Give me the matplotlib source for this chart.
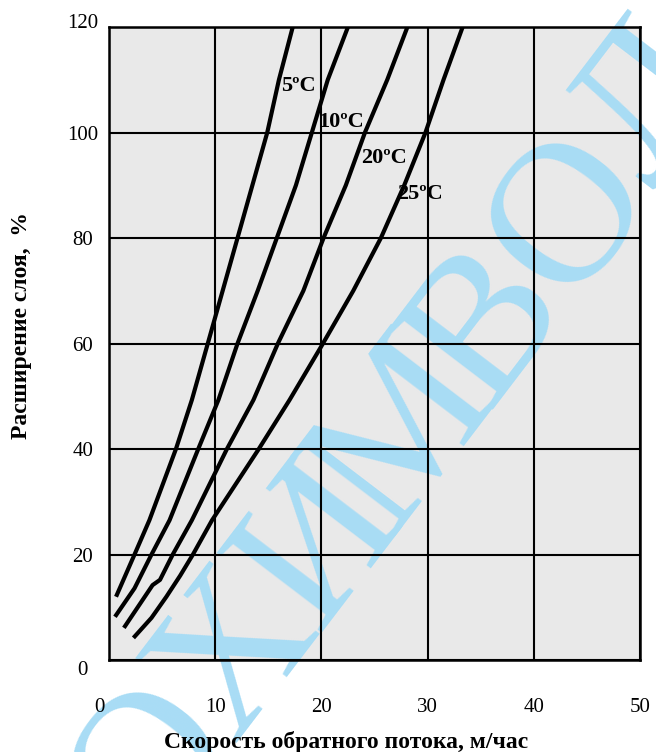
import matplotlib
matplotlib.use("Agg")
import matplotlib.pyplot as plt
import matplotlib.transforms as mtransforms
import numpy as np

plt.rcParams['font.family'] = ['Liberation Serif', 'DejaVu Serif']

# values: flow rate (m/h) vs bed expansion (%)
x_5 = [0.66, 2.4, 3.8, 6.3, 7.8, 9.3, 10.7, 12.1, 13.5, 14.9, 16.0, 17.3]
y_5 = [12, 20, 26.5, 40, 49.3, 60, 70, 80, 90, 100, 110, 120]

x_10 = [0.56, 2.4, 4.0, 5.7, 8.4, 10.3, 12.1, 14.0, 15.8, 17.6, 19.1, 20.6, 22.5]
y_10 = [8.2, 13.6, 20, 26.5, 40, 49.3, 60, 70, 80, 90, 100, 110, 120]

x_20 = [1.4, 4.1, 4.8, 6.0, 7.8, 11.1, 13.6, 15.9, 18.3, 20.2, 22.3, 24.1, 26.2, 28.1]
y_20 = [6.1, 14.2, 15.2, 20, 26.5, 40, 49.3, 60, 70, 80, 90, 100, 110, 120]

x_25 = [2.3, 4.0, 5.4, 6.7, 7.9, 9.7, 14.1, 17.0, 20.0, 23.0, 25.6, 27.8, 29.8, 31.5, 33.3]
y_25 = [4.2, 8.0, 12, 16, 20, 26.5, 40, 49.3, 59.5, 70, 80, 90, 100, 110, 120]

curves = [(x_5, y_5), (x_10, y_10), (x_20, y_20), (x_25, y_25)]
labels = ['5ºC', '10ºC', '20ºC', '25ºC']
label_x = [17.8, 21.9, 25.9, 29.3]
label_y = [108.8, 102.0, 95.2, 88.3]

x_ticks = [0, 10, 20, 30, 40, 50]
y_ticks = [0, 20, 40, 60, 80, 100, 120]

watermark = 'ОХИМВОЛ'

fig = plt.figure(figsize=(6.56, 7.52), dpi=100)
ax = fig.add_axes([0.1662, 0.1223, 0.8094, 0.8418])
ax.set_facecolor('#e9e9e9')

for xs, ys in curves:
    ax.plot(xs, ys, color='black', lw=3.0, solid_capstyle='butt',
            solid_joinstyle='round', zorder=3)

for t, lx, ly in zip(labels, label_x, label_y):
    ax.text(lx, ly, t, fontsize=16, fontweight='bold', ha='center',
            va='center', zorder=4)

ax.set_xlim(0, 50)
ax.set_ylim(0, 120)
ax.set_xticks(x_ticks)
ax.set_yticks(y_ticks)
ax.set_xticklabels([str(v) for v in x_ticks], fontsize=15)
ax.set_yticklabels([str(v) for v in y_ticks], fontsize=15, ha='center')
ax.tick_params(axis='x', length=0, pad=27)
ax.tick_params(axis='y', length=0, pad=19)
ax.grid(True, color='black', lw=1.5)
ax.set_axisbelow(False)
for s in ax.spines.values():
    s.set_linewidth(1.8)
    s.set_zorder(5)

# small label nudges as in the original scan
def nudge(lab, dx, dy):
    off = mtransforms.ScaledTranslation(dx / 72, dy / 72, fig.dpi_scale_trans)
    lab.set_transform(lab.get_transform() + off)

nudge(ax.get_xticklabels()[0], -7, 0)
nudge(ax.get_yticklabels()[0], 0, -6)
nudge(ax.get_yticklabels()[-1], 0, 4)

fig.text(346 / 656, 10 / 752, 'Скорость обратного потока, м/час',
         fontsize=17, fontweight='bold', ha='center', va='center')
fig.text(22 / 656, 1 - 325 / 752, 'Расширение слоя,  %',
         fontsize=17, fontweight='bold', ha='center', va='center',
         rotation=90)

# diagonal watermark, one letter at a time, under the grid and curves
ang = 52.7
step = 138
ca, sa = np.cos(np.radians(ang)), np.sin(np.radians(ang))
start = np.array([230 - step * ca + 8, 650 + step * sa + 6])
for i, ch in enumerate(watermark):
    px = start[0] + i * step * ca
    py = start[1] - i * step * sa
    ax.text(px / 656, 1 - py / 752, ch, transform=fig.transFigure,
            fontsize=145, color='#a8dcf5', rotation=ang,
            rotation_mode='anchor', ha='center', va='center',
            zorder=1, clip_on=False)

fig.savefig('out.png', dpi=100)
